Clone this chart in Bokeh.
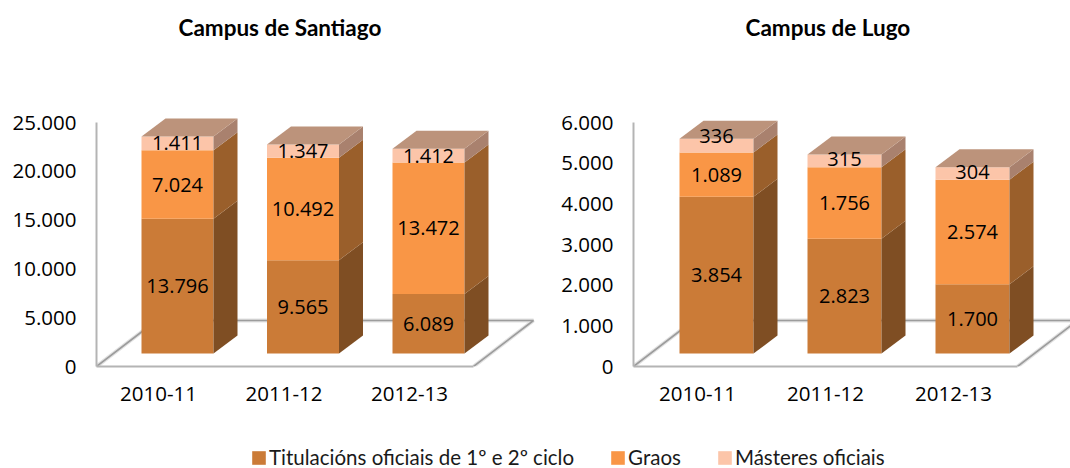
from bokeh.plotting import figure
from bokeh.layouts import column, row
from bokeh.models import (ColumnDataSource, FixedTicker, Range1d, Legend, LegendItem, Title)
from bokeh.core.properties import value
from bokeh.embed import file_html
from bokeh.resources import INLINE

years = ["2010-11", "2011-12", "2012-13"]
series_names = ["Titulacións oficiais de 1º e 2º ciclo", "Graos", "Másteres oficiais"]

santiago_ciclo = [13796, 9565, 6089]
santiago_graos = [7024, 10492, 13472]
santiago_master = [1411, 1347, 1412]
santiago_ticks = [0, 5000, 10000, 15000, 20000, 25000]

lugo_ciclo = [3854, 2823, 1700]
lugo_graos = [1089, 1756, 2574]
lugo_master = [336, 315, 304]
lugo_ticks = [0, 1000, 2000, 3000, 4000, 5000, 6000]
lugo_label_shift = [[0, 0, 0], [0, 0, 0], [10, 2, 2]]

FRONT = ["#CB7B37", "#F99646", "#FCC5A9"]
SIDE = ["#7F4E23", "#9A5F2B", "#A9816E"]
TOP = "#BC937B"
AXIS = "#B4B4B4"
FLOOR = "#9C9C9C"
HALO = "#E2E2E2"
VALUE_FONT = "Open Sans"
TITLE_FONT = "Lato"

PX_Y_SPAN = 244      # pixels between 0 and top tick
FIG_H = 406
FRAME_TOP_PAD = 100
BOTTOM = 40
DX, DY, BASE = 24, 18, 13
FLOOR_DX, FLOOR_DY = 60, 46


def fmt(n):
    return f"{n:,}".replace(",", ".")


def panel(title, title_off, series, ticks, shifts, width, left, right_pad, cat_px, first_label_px, bar_l, bar_r, floor_w):
    frame_w = width - left - right_pad
    frame_h = FIG_H - FRAME_TOP_PAD - BOTTOM
    top_tick = ticks[-1]
    px_v = PX_Y_SPAN / top_tick
    x0 = -first_label_px / cat_px
    p = figure(width=width, height=FIG_H, output_backend="svg", toolbar_location=None,
               x_range=Range1d(x0, x0 + frame_w / cat_px),
               y_range=Range1d(0, frame_h / px_v),
               min_border_left=left, min_border_right=right_pad,
               min_border_top=FRAME_TOP_PAD, min_border_bottom=BOTTOM)
    p.outline_line_color = None
    p.xgrid.visible = False
    p.ygrid.visible = False

    p.title.text = title
    p.title.text_font = TITLE_FONT
    p.title.text_font_size = "22.5px"
    p.title.text_font_style = "bold"
    p.title.text_color = "#000000"
    p.title.align = "left"
    p.title.offset = title_off
    p.title.standoff = 0
    # blank spacer between the frame and the title
    p.add_layout(Title(text=" ", text_font_size="1px", standoff=57), "above")

    ax = p.xaxis[0]
    ax.ticker = FixedTicker(ticks=list(range(len(years))))
    ax.major_label_overrides = {i: y for i, y in enumerate(years)}
    ax.bounds = (x0, x0 + floor_w / cat_px)
    ay = p.yaxis[0]
    ay.ticker = FixedTicker(ticks=ticks)
    ay.major_label_overrides = {t: fmt(t) for t in ticks}
    ay.bounds = (0, top_tick)
    for a, standoff in ((ax, 14), (ay, 14)):
        a.axis_line_color = AXIS
        a.axis_line_width = 2
        a.major_tick_line_color = None
        a.minor_tick_line_color = None
        a.major_label_standoff = standoff
        a.major_label_text_font = VALUE_FONT
        a.major_label_text_font_size = "20.5px"
        a.major_label_text_color = "#000000"

    # floor drawn behind the bars, with a soft halo
    fx = FLOOR_DX / cat_px
    fy = FLOOR_DY / px_v
    fw = floor_w / cat_px
    floor_x = [x0, x0 + fx, x0 + fx + fw, x0 + fw]
    floor_y = [0, fy, fy, 0]
    p.line(floor_x, floor_y, line_color=HALO, line_width=4)
    p.line(floor_x, floor_y, line_color=FLOOR, line_width=1.6)

    dx = DX / cat_px
    dy = DY / px_v
    base = BASE / px_v
    l = bar_l / cat_px
    r = bar_r / cat_px
    n = len(years)
    bottoms = [base] * n
    tx, ty, tt, ts = [], [], [], []
    for s, vals in enumerate(series):
        tops = [b + v for b, v in zip(bottoms, vals)]
        xs = [i + l for i in range(n)]
        xe = [i + r for i in range(n)]
        p.quad(left=xs, right=xe, bottom=bottoms, top=tops, fill_color=FRONT[s], line_color=None)
        p.patches(
            [[e, e + dx, e + dx, e] for e in xe],
            [[b, b + dy, t + dy, t] for b, t in zip(bottoms, tops)],
            fill_color=SIDE[s], line_color=None)
        for i in range(n):
            tx.append(i + (l + r) / 2)
            ty.append((bottoms[i] + tops[i]) / 2)
            tt.append(fmt(vals[i]))
            ts.append(-shifts[s][i])
        bottoms = tops
    xs = [i + l for i in range(n)]
    xe = [i + r for i in range(n)]
    p.patches(
        [[a, b, b + dx, a + dx] for a, b in zip(xs, xe)],
        [[t, t, t + dy, t + dy] for t in bottoms],
        fill_color=TOP, line_color=None)
    src = ColumnDataSource(dict(x=tx, y=ty, t=tt, s=ts))
    p.text("x", "y", text="t", y_offset="s", source=src, text_align="center", text_baseline="middle",
           text_font=value(VALUE_FONT), text_font_size="20px", text_color="#000000")
    return p


p1 = panel("Campus de Santiago", 82,
           [santiago_ciclo, santiago_graos, santiago_master], santiago_ticks,
           [[0] * 3, [0] * 3, [0] * 3],
           535, 96, 0, 125.5, 62, -17, 55, 377)
p2 = panel("Campus de Lugo", 112,
           [lugo_ciclo, lugo_graos, lugo_master], lugo_ticks, lugo_label_shift,
           535, 98, 0, 128, 64, -18, 56, 384)

leg = figure(width=1070, height=62, output_backend="svg", toolbar_location=None,
             x_range=Range1d(0, 1), y_range=Range1d(0, 1), min_border=0)
leg.axis.visible = False
leg.xgrid.visible = False
leg.ygrid.visible = False
leg.outline_line_color = None
items = []
for c, name in zip(FRONT, series_names):
    # swatch source lies outside the legend figure's visible range
    r = leg.quad(left=[2], right=[3], top=[3], bottom=[2], fill_color=c, line_color=None)
    items.append(LegendItem(label=name, renderers=[r]))
legend = Legend(items=items, orientation="horizontal", location=(250, -1),
                glyph_width=17, glyph_height=17, label_standoff=2, spacing=35,
                padding=0, margin=0, border_line_color=None, background_fill_alpha=0,
                label_text_font=TITLE_FONT, label_text_font_size="20.5px", label_text_color="#1a1a1a")
leg.add_layout(legend, "center")

page = column(row(p1, p2, spacing=0), leg, spacing=0)
open("out.html", "w").write(file_html(page, INLINE))
